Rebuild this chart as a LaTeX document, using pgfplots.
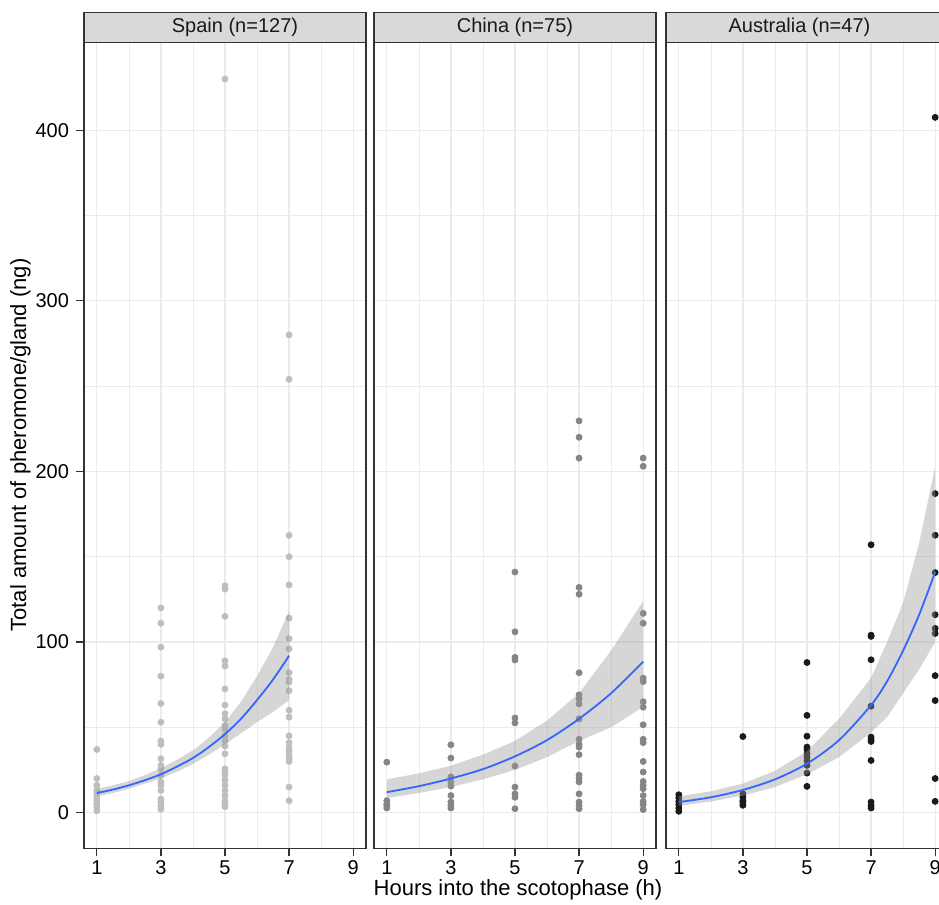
\documentclass[border=0pt]{standalone}
\usepackage{pgfplots}
\pgfplotsset{compat=1.18}
\usepackage{pgfplotstable}
\usepackage{fontspec}
\setmainfont{Liberation Sans}

\definecolor{gridc}{HTML}{EBEBEB}
\definecolor{framec}{HTML}{333333}
\definecolor{stripc}{HTML}{D9D9D9}
\definecolor{ribc}{HTML}{999999}
\definecolor{fitblue}{HTML}{3366FF}
\definecolor{ptspain}{HTML}{BEBEBE}
\definecolor{ptchina}{HTML}{858585}
\definecolor{ptaus}{HTML}{1A1A1A}

% raw points
\pgfplotstableread{
x y
1 37
1 20
1 16
1 13
1 11
1 9
1 7
1 5
1 3
1 1
3 120
3 111
3 97
3 80
3 64
3 53
3 42
3 40
3 31.6
3 27.7
3 25.7
3 21.8
3 18
3 16
3 13
3 8
3 6
3 4
3 2
5 430
5 133
5 131
5 115
5 89
5 86
5 72.5
5 63
5 58
5 55
5 51
5 49
5 45
5 42
5 39
5 34.5
5 25.7
5 24
5 21.8
5 19
5 16
5 13
5 10
5 7
5 5
5 3.5
7 280
7 254
7 162.5
7 150
7 133.5
7 114
7 102
7 96
7 82
7 78
7 76.5
7 71.5
7 60
7 56
7 45
7 41
7 38
7 36
7 33.5
7 31.6
7 30
7 15
7 7
}\spainpts

\pgfplotstableread{
x y
1 29.6
1 7
1 5
1 4.3
1 2.7
3 39.8
3 32
3 20.9
3 18
3 15.6
3 10
3 6.2
3 4.3
3 2.7
5 141
5 106
5 91
5 89.5
5 55.5
5 52.6
5 27.3
5 15
5 11
5 9
5 2.3
7 229.6
7 220
7 207.8
7 132
7 128
7 82
7 69
7 66.7
7 63.7
7 55
7 43
7 40
7 38.4
7 34
7 22
7 20
7 18
7 11
7 6.2
7 4.3
7 2.3
9 207.8
9 203
9 116.8
9 111
9 78.8
9 76.8
9 65
9 61.8
9 51.5
9 43
9 41
9 30
9 23.8
9 18.3
9 16
9 14
9 10
9 6.6
9 4.7
9 1.8
}\chinapts

\pgfplotstableread{
x y
1 10.5
1 8.6
1 6.6
1 4.7
1 2.7
1 0.8
3 44.6
3 11
3 9
3 7
3 5.8
3 4.3
5 88
5 57
5 44.8
5 38.4
5 37
5 34.5
5 32.6
5 30.6
5 27.7
5 23.2
5 15.4
7 157
7 104
7 103.3
7 89.6
7 62.4
7 44.3
7 42.9
7 41.7
7 30.6
7 6.2
7 4.3
7 2.7
9 407.5
9 187
9 162.6
9 140.7
9 116
9 108
9 105
9 80.3
9 65.7
9 20
9 6.6
}\auspts

% fitted curves
\pgfplotstableread{
x y
1 11.5
1.5 13.5
2 16
2.5 19
3 22.5
3.5 27
4 32
4.5 38.5
5 46
5.5 55
6 66
6.5 78
7 92
}\spainfit

\pgfplotstableread{
x y
1 12
2 15.5
3 20
4 25.5
5 33
6 42.5
7 55
8 70
9 88.5
}\chinafit

\pgfplotstableread{
x y
1 6.2
2 9
3 13.3
4 19.5
5 28.7
6 42.5
7 63
7.5 77
8 95
8.5 116
9 141
}\ausfit

% confidence bands: upper edge left to right, then lower edge back
\pgfplotstableread{
x y
1 14
1.5 16
2 18.5
2.5 22
3 26
3.5 31
4 36.5
4.5 44
5 53
5.5 65
6 80
6.5 97
7 118
7 66
6.5 59
6 53
5.5 46.5
5 40
4.5 34
4 28.5
3.5 24
3 20
2.5 17
2 14
1.5 11.5
1 9.5
}\spainband

\pgfplotstableread{
x y
1 19.5
2 23
3 27.5
4 34
5 42
6 54
7 70
8 95
9 124
9 62
8 50
7 42
6 32.5
5 25
4 19.5
3 15
2 11.5
1 8.5
}\chinaband

\pgfplotstableread{
x y
1 9.5
2 12.5
3 17
4 24.5
5 36
6 55
7 79
7.5 100
8 123
8.5 158
9 203
9 100
8.5 84
8 70
7.5 56
7 47
6 32.5
5 22.5
4 15
3 10
2 6.5
1 4
}\ausband

\pgfplotsset{
  facet/.style={
    scale only axis, width=141pt, height=403pt,
    xmin=0.6, xmax=9.4, ymin=-20.9, ymax=451.5,
    xtick={1,3,5,7,9}, minor xtick={2,4,6,8},
    ytick={0,100,200,300,400}, minor ytick={50,150,250,350},
    grid=both,
    major grid style={gridc, line width=0.6pt},
    minor grid style={gridc, line width=0.3pt},
    axis line style={framec, line width=0.6pt},
    tick align=outside, major tick length=4pt, minor tick length=0pt,
    tick style={framec, line width=0.6pt},
    tick pos=left,
    tick label style={font=\fontsize{10}{12}\selectfont, black},
    xticklabel style={yshift=1.5pt, text depth=0pt},
    /pgf/number format/assume math mode=true,
    clip mode=individual,
  },
}

% facet strip; #2 nudges the label sideways as in the source figure
\newcommand{\strip}[2]{%
  \draw[framec, fill=stripc, line width=0.6pt] (rel axis cs:0,1) rectangle ([yshift=15pt]rel axis cs:1,1);
  \node[font=\fontsize{10}{12}\selectfont, text=black!90] at ([yshift=7.5pt, xshift=#2]rel axis cs:0.5,1) {#1};
}

\newcommand{\band}[2]{%
  \addplot[draw=none, fill=ribc, fill opacity=0.4] table[x=x, y=y]{#1} -- cycle;
  \addplot[fitblue, line width=0.9pt, smooth] table[x=x, y=y]{#2};
}

\begin{document}
\begin{tikzpicture}

\begin{axis}[facet, at={(42pt,28.35pt)}, anchor=south west]
  \addplot[only marks, mark=*, mark size=1.5pt, ptspain] table[x=x, y=y]{\spainpts};
  \band{\spainband}{\spainfit}
  \strip{Spain (n=127)}{5pt}
\end{axis}

\begin{axis}[facet, at={(187pt,28.35pt)}, anchor=south west,
  yticklabels={}, ytick style={draw=none}]
  \addplot[only marks, mark=*, mark size=1.5pt, ptchina] table[x=x, y=y]{\chinapts};
  \band{\chinaband}{\chinafit}
  \strip{China (n=75)}{0pt}
\end{axis}

\begin{axis}[facet, at={(333pt,28.35pt)}, anchor=south west,
  yticklabels={}, ytick style={draw=none}]
  \addplot[only marks, mark=*, mark size=1.5pt, ptaus] table[x=x, y=y]{\auspts};
  \band{\ausband}{\ausfit}
  \strip{Australia (n=47)}{-3.75pt}
\end{axis}

\node[font=\fontsize{11}{13}\selectfont, inner sep=1pt] at (259pt,7.5pt) {Hours into the scotophase (h)};
\node[font=\fontsize{11}{13}\selectfont, rotate=90] at (10.25pt,230pt) {Total amount of pheromone/gland (ng)};

\pgfresetboundingbox
\useasboundingbox (0,0) rectangle (469.5pt,452.5pt);
\end{tikzpicture}
\end{document}
